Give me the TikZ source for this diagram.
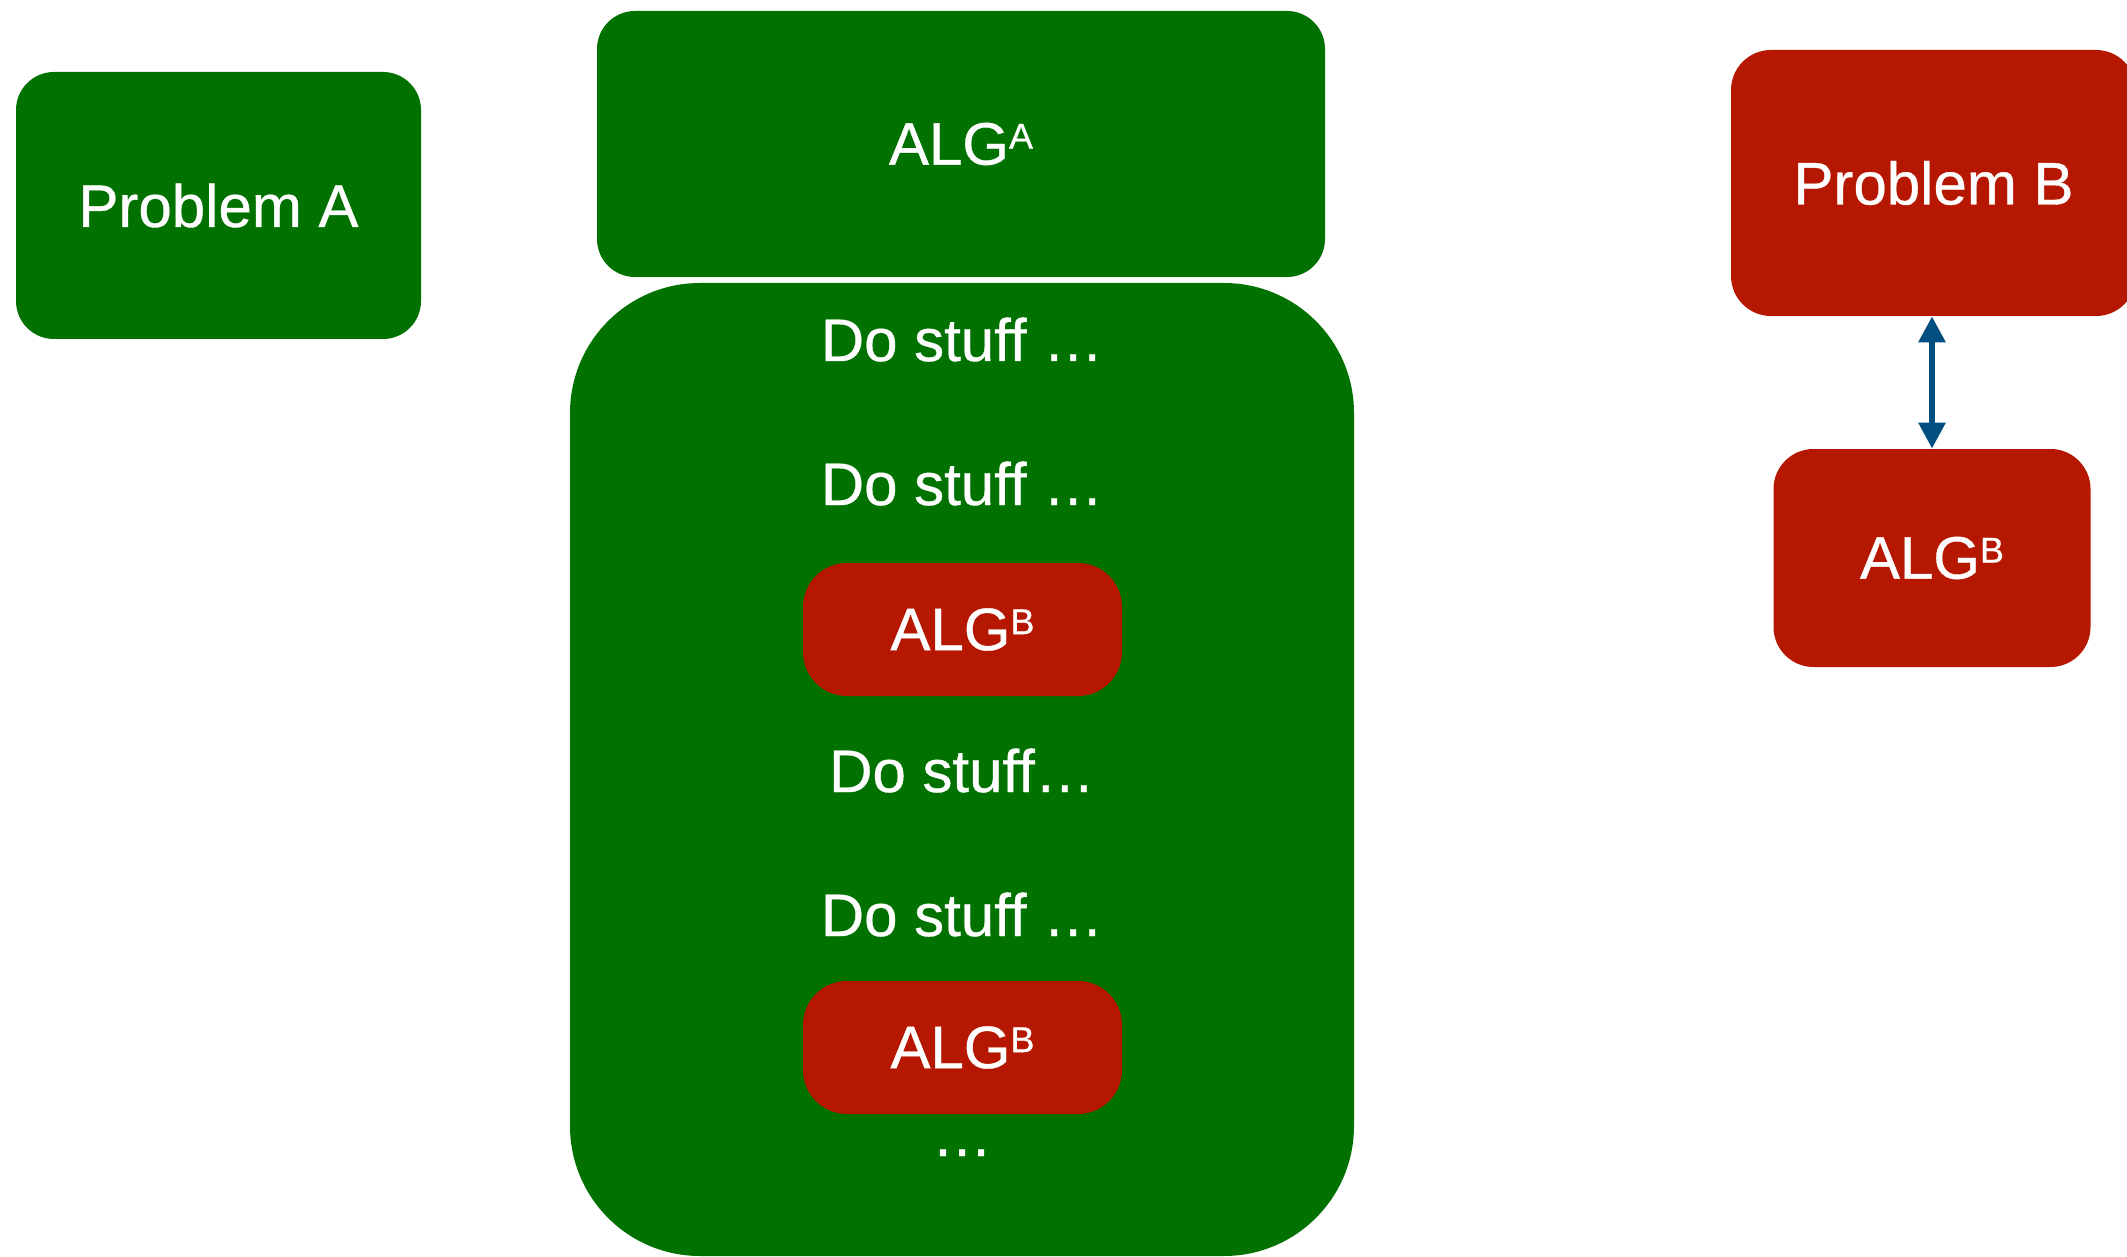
\documentclass[tikz,border=0pt]{standalone}
\usepackage{fontspec}
\setmainfont[FakeBold=0.6]{Liberation Sans}
\usetikzlibrary{arrows.meta}
\definecolor{kgreen}{HTML}{017100}
\definecolor{kred}{HTML}{B51700}
\definecolor{kblue}{HTML}{004F80}
\newcommand{\supr}[1]{\raisebox{8pt}{\fontsize{18}{18}\selectfont #1}}
\begin{document}
\begin{tikzpicture}[x=0.5pt,y=-0.5pt,
  lbl/.style={text=white,font=\fontsize{30}{36}\selectfont,inner sep=0pt},
  gbox/.style={lbl,fill=kgreen,rounded corners=19pt},
  rbox/.style={lbl,fill=kred,rounded corners=20pt},
  txt/.style={lbl,anchor=base},
  link/.style={draw=kblue,line width=3pt,{Triangle[width=13pt,length=13pt]}-{Triangle[width=13pt,length=13pt]}}]
\useasboundingbox (0,0) rectangle (2127,1257);
\node[gbox,minimum width=202.5pt,minimum height=133.5pt] (probA) at (218.5,205.5) {Problem A};
\node[gbox,minimum width=364pt,minimum height=133pt] (algA) at (961,144) {ALG\supr{A}};
\node[gbox,rounded corners=65pt,minimum width=392pt,minimum height=486.5pt] (main) at (962,769.5) {};
\node[txt] (d1) at (962,361) {Do stuff …};
\node[txt] (d2) at (962,505) {Do stuff …};
\node[rbox,rounded corners=22pt,minimum width=159.5pt,minimum height=66.5pt] (callB1) at (962.5,629.5) {ALG\supr{B}};
\node[txt] (d3) at (962,792) {Do stuff…};
\node[txt] (d4) at (962,936) {Do stuff …};
\node[rbox,rounded corners=22pt,minimum width=159.5pt,minimum height=66.5pt] (callB2) at (962.5,1047.5) {ALG\supr{B}};
\node[txt] (d5) at (962,1156) {…};
\node[rbox,minimum width=202.5pt,minimum height=133pt] (probB) at (1933.5,183) {Problem B};
\node[rbox,minimum width=158.5pt,minimum height=109pt] (algB) at (1932,558) {ALG\supr{B}};
\draw[link] (probB.south -| algB.north) -- (algB.north);
\end{tikzpicture}
\end{document}
